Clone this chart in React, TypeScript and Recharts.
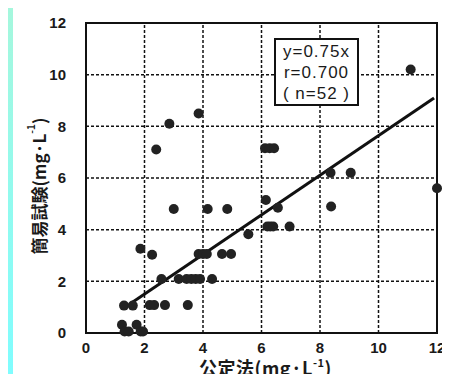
import React from 'react';
import {
  ScatterChart,
  Scatter,
  XAxis,
  YAxis,
  ReferenceLine,
  ReferenceArea,
} from 'recharts';

// 公定法 (x) vs 簡易試験 (y)
const officialMethod = [
  11.1, 12.0, 3.85, 2.85, 2.4, 6.12, 6.28, 6.43, 8.36, 9.05,
  3.0, 4.16, 4.83, 6.15, 6.56, 8.38, 6.2, 6.3, 6.4, 6.96,
  5.55, 1.86, 2.26, 3.85, 4.0, 4.13, 4.65, 4.96, 2.58, 3.17,
  3.44, 3.6, 3.75, 3.9, 4.31, 1.3, 1.6, 2.18, 2.33, 2.7,
  3.48, 1.23, 1.73, 1.32, 1.46, 1.87, 1.95,
];
const simpleTest = [
  10.2, 5.6, 8.5, 8.1, 7.1, 7.15, 7.15, 7.15, 6.2, 6.2,
  4.8, 4.8, 4.8, 5.15, 4.85, 4.9, 4.12, 4.12, 4.12, 4.12,
  3.82, 3.26, 3.03, 3.06, 3.06, 3.06, 3.06, 3.06, 2.09, 2.09,
  2.09, 2.09, 2.09, 2.09, 2.09, 1.06, 1.06, 1.08, 1.08, 1.08,
  1.08, 0.32, 0.32, 0.06, 0.06, 0.06, 0.06,
];

const ticks = [0, 2, 4, 6, 8, 10, 12];
const gridTicks = [2, 4, 6, 8, 10];
const fitStart = { x: 1.55, y: 1.16 };
const fitEnd = { x: 11.9, y: 9.1 };
const statLines = ['y=0.75x', 'r=0.700', '( n=52 )'];

const points = officialMethod.map((x, i) => ({ x, y: simpleTest[i] }));

const tickStyle = {
  fontFamily: '"Liberation Sans", Arial, sans-serif',
  fontWeight: 700,
  fontSize: 15,
  fill: '#1a1a1a',
};

const labelFont = '"Noto Sans CJK JP", "Liberation Sans", sans-serif';

const XLabel = ({ viewBox }: any) => {
  const { x, y, width } = viewBox;
  return (
    <text
      x={x + width / 2 + 4}
      y={y + 42}
      textAnchor="middle"
      fontFamily={labelFont}
      fontWeight={700}
      fontSize={18}
      letterSpacing={0.5}
      fill="#1a1a1a"
    >
      公定法(mg·L<tspan baselineShift="super" fontSize={11}>-1</tspan>
      <tspan>)</tspan>
    </text>
  );
};

const YLabel = () => (
  <text
    x={38}
    y={186}
    transform="rotate(-90 38 186)"
    textAnchor="middle"
    dominantBaseline="central"
    fontFamily={labelFont}
    fontWeight={700}
    fontSize={17}
    fill="#1a1a1a"
  >
    簡易試験(mg·L<tspan baselineShift="super" fontSize={10}>-1</tspan>
    <tspan>)</tspan>
  </text>
);

const gridStyle = { stroke: '#111', strokeWidth: 1.5, strokeDasharray: '3 2' };

export default function App() {
  return (
    <div
      style={{
        position: 'relative',
        margin: -8,
        width: 450,
        height: 382,
        background: 'linear-gradient(to bottom, #a6f7dc, #7ffdff)',
        overflow: 'hidden',
      }}
    >
      <div
        style={{
          position: 'absolute',
          left: 13,
          top: 6,
          right: 0,
          bottom: 0,
          background: '#fff',
        }}
      />
      <div style={{ position: 'absolute', left: 0, top: 0 }}>
        <ScatterChart
          width={450}
          height={382}
          margin={{ top: 23, right: 13, left: 26, bottom: 19 }}
          style={{ overflow: 'visible' }}
        >
          <XAxis
            type="number"
            dataKey="x"
            xAxisId="bottom"
            domain={[0, 12]}
            ticks={ticks}
            tickLine={false}
            tickMargin={3}
            height={30}
            axisLine={false}
            tick={tickStyle}
            label={<XLabel />}
          />
          <YAxis
            type="number"
            dataKey="y"
            yAxisId="left"
            domain={[0, 12]}
            ticks={ticks}
            tickLine={false}
            tickMargin={14}
            width={60}
            axisLine={false}
            tick={tickStyle}
          />
          {gridTicks.map((v) => (
            <ReferenceLine key={`gx${v}`} xAxisId="bottom" yAxisId="left" x={v} {...gridStyle} />
          ))}
          {gridTicks.map((v) => (
            <ReferenceLine key={`gy${v}`} xAxisId="bottom" yAxisId="left" y={v} {...gridStyle} />
          ))}
          <ReferenceArea
            xAxisId="bottom"
            yAxisId="left"
            x1={0}
            x2={12}
            y1={0}
            y2={12}
            fill="none"
            fillOpacity={0}
            stroke="#111"
            strokeWidth={2}
          />
          <ReferenceLine
            xAxisId="bottom"
            yAxisId="left"
            segment={[fitStart, fitEnd]}
            stroke="#111"
            strokeWidth={3}
          />
          <Scatter
            xAxisId="bottom"
            yAxisId="left"
            data={points}
            fill="#222"
            shape={(p: any) => <circle cx={p.cx} cy={p.cy} r={5} fill="#222" />}
            isAnimationActive={false}
          />
          <YLabel />
        </ScatterChart>
      </div>
      <div
        style={{
          position: 'absolute',
          left: 274,
          top: 38,
          width: 81,
          height: 64,
          border: '2px solid #111',
          background: '#fff',
          display: 'flex',
          flexDirection: 'column',
          alignItems: 'center',
          justifyContent: 'center',
          fontFamily: '"Liberation Sans", Arial, sans-serif',
          fontSize: 17,
          letterSpacing: 1,
          lineHeight: '21px',
          color: '#1a1a1a',
          whiteSpace: 'pre',
        }}
      >
        {statLines.map((s) => (
          <div key={s}>{s}</div>
        ))}
      </div>
    </div>
  );
}
